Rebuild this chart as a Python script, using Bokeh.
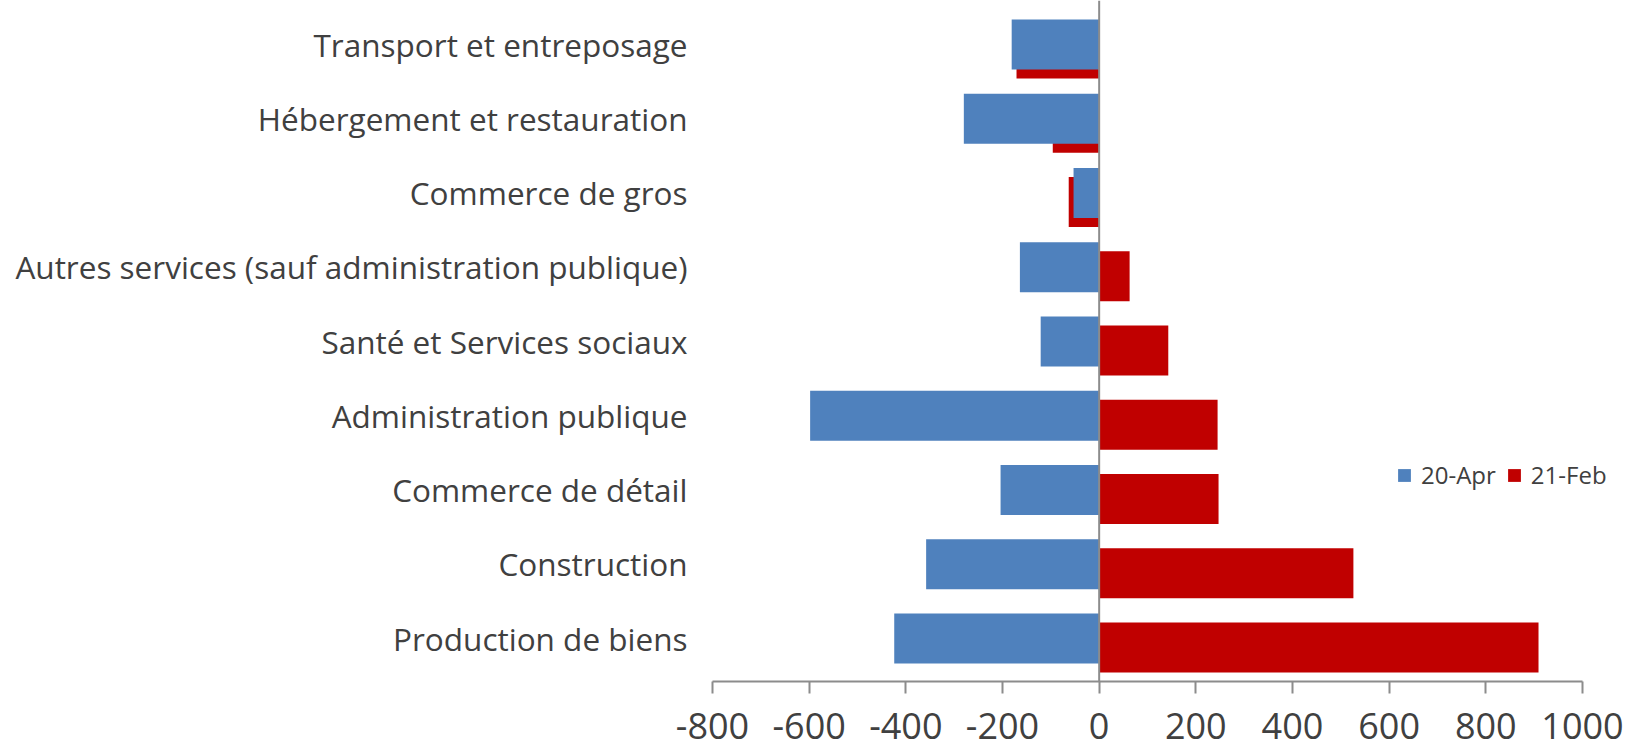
from bokeh.plotting import figure
from bokeh.models import FactorRange, Range1d, Span, Legend, LegendItem, ColumnDataSource, FixedTicker
from bokeh.transform import dodge
from bokeh.embed import file_html
from bokeh.resources import INLINE

categories = ["Transport et entreposage", "Hébergement et restauration", "Commerce de gros",
              "Autres services (sauf administration publique)", "Santé et Services sociaux",
              "Administration publique", "Commerce de détail", "Construction", "Production de biens"]
apr20 = [-181, -280, -53, -164, -121, -598, -204, -358, -424]
feb21 = [-171, -96, -63, 63, 143, 245, 247, 526, 909]
x_ticks = [-800, -600, -400, -200, 0, 200, 400, 600, 800, 1000]
series_names = ["20-Apr", "21-Feb"]

BLUE = "#4F81BD"
RED = "#C00000"
TEXT = "#404040"
AXIS = "#8C8C8C"
FONT = "Open Sans"

W, H = 1627, 749
LEFT, RIGHT, BOTTOM = 712, 7, 68
FRAME_W = W - LEFT - RIGHT
FRAME_H = H - BOTTOM
AXIS_W = 870            # pixel length of the -800..1000 axis
BAND = 74.25            # pixel height of one category band
X_MIN, X_MAX = x_ticks[0], x_ticks[-1]
X_END = X_MAX + (FRAME_W - AXIS_W) * (X_MAX - X_MIN) / AXIS_W
PAD = (FRAME_H / BAND - len(categories)) / 2

src = ColumnDataSource(dict(cat=categories, apr=apr20, feb=feb21))

p = figure(width=W, height=H,
           y_range=FactorRange(factors=categories[::-1], range_padding=PAD,
                               range_padding_units="absolute"),
           x_range=Range1d(X_MIN, X_END),
           output_backend="svg", toolbar_location=None,
           min_border_left=LEFT, min_border_right=RIGHT, min_border_top=0, min_border_bottom=BOTTOM)
p.outline_line_color = None
p.xgrid.visible = False
p.ygrid.visible = False

rr = p.hbar(y=dodge("cat", -0.128, range=p.y_range), right="feb", left=0, height=0.673,
            source=src, fill_color=RED, line_color=None)
rb = p.hbar(y=dodge("cat", -0.007, range=p.y_range), right="apr", left=0, height=0.673,
            source=src, fill_color=BLUE, line_color=None)

p.add_layout(Span(location=0, dimension="height", line_color=AXIS, line_width=2))

xa = p.xaxis[0]
xa.bounds = (X_MIN, X_MAX)
xa.ticker = FixedTicker(ticks=x_ticks)
xa.major_label_overrides = {t: str(t) for t in x_ticks}
xa.axis_line_color = AXIS
xa.axis_line_width = 2
xa.major_tick_line_color = AXIS
xa.major_tick_line_width = 2
xa.major_tick_out = 12
xa.major_tick_in = 0
xa.minor_tick_line_color = None
xa.major_label_standoff = 19
xa.major_label_text_font = FONT
xa.major_label_text_font_size = "36px"
xa.major_label_text_color = TEXT

ya = p.yaxis[0]
ya.axis_line_color = None
ya.major_tick_line_color = None
ya.minor_tick_line_color = None
ya.major_tick_out = 0
ya.major_label_standoff = 25
ya.major_label_text_font = FONT
ya.major_label_text_font_size = "31.5px"
ya.major_label_text_color = TEXT

legend = Legend(items=[LegendItem(label=series_names[0], renderers=[rb]),
                       LegendItem(label=series_names[1], renderers=[rr])],
                orientation="horizontal", location=(684, 190),
                glyph_width=16, glyph_height=16, label_standoff=9, spacing=10,
                padding=0, margin=0, border_line_color=None, background_fill_alpha=0,
                label_text_font=FONT, label_text_font_size="24px", label_text_color=TEXT)
p.add_layout(legend)

open("out.html", "w").write(file_html(p, INLINE))
